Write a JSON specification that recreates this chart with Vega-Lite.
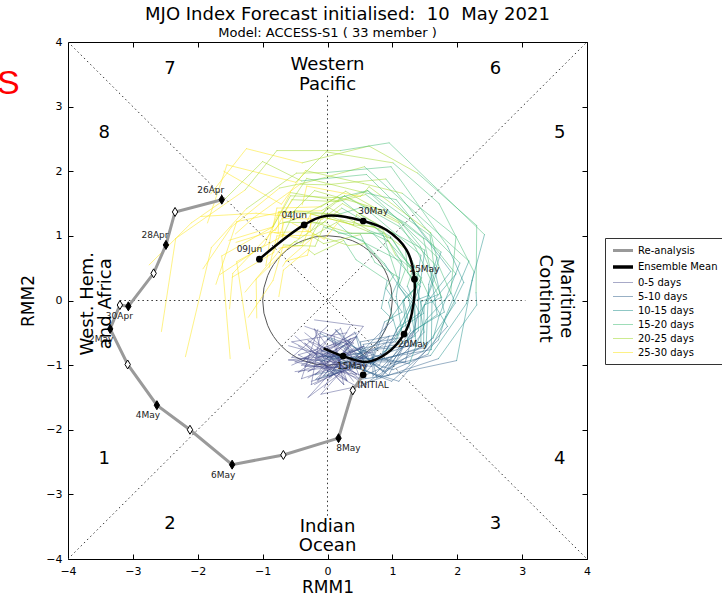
{
  "$schema": "https://vega.github.io/schema/vega-lite/v6.json",
  "autosize": {"type": "none"},
  "width": 519,
  "height": 517,
  "padding": {"left": 68, "top": 42, "right": 135, "bottom": 41},
  "background": "white",
  "title": {"text": "MJO Index Forecast initialised:\u00a0 10\u00a0 May 2021", "fontSize": 18, "font": "DejaVu Sans", "fontWeight": "normal", "color": "#000", "anchor": "middle", "dx": 20, "offset": -15, "baseline": "bottom"},
  "datasets": {
    "guide": [
      {"x": -4, "y": -4, "x2": 4, "y2": 4},
      {"x": -4, "y": 4, "x2": 4, "y2": -4},
      {"x": -3.2, "y": 0, "x2": 3.05, "y2": 0},
      {"x": 0, "y": -3.33, "x2": 0, "y2": 3.2}
    ],
    "rea": [
      {"date": "2021-04-26", "x": -1.63, "y": 1.56, "lab": "26Apr"},
      {"date": "2021-04-27", "x": -2.35, "y": 1.37, "lab": "-"},
      {"date": "2021-04-28", "x": -2.49, "y": 0.86, "lab": "28Apr"},
      {"date": "2021-04-29", "x": -2.68, "y": 0.42, "lab": "-"},
      {"date": "2021-04-30", "x": -3.07, "y": -0.09, "lab": "30Apr"},
      {"date": "2021-05-01", "x": -3.2, "y": -0.07, "lab": "-"},
      {"date": "2021-05-02", "x": -3.35, "y": -0.44, "lab": "2May"},
      {"date": "2021-05-03", "x": -3.08, "y": -0.99, "lab": "-"},
      {"date": "2021-05-04", "x": -2.63, "y": -1.62, "lab": "4May"},
      {"date": "2021-05-05", "x": -2.12, "y": -2.0, "lab": "-"},
      {"date": "2021-05-06", "x": -1.47, "y": -2.54, "lab": "6May"},
      {"date": "2021-05-07", "x": -0.68, "y": -2.39, "lab": "-"},
      {"date": "2021-05-08", "x": 0.17, "y": -2.13, "lab": "8May"},
      {"date": "2021-05-09", "x": 0.39, "y": -1.39, "lab": "-"},
      {"date": "2021-05-10", "x": 0.55, "y": -1.15, "lab": "INITIAL"}
    ],
    "mean": [
      {"d": 1, "x": -0.06, "y": -0.74, "lab": "-"},
      {"d": 5, "x": 0.24, "y": -0.86, "lab": "15May"},
      {"d": 7, "x": 0.6, "y": -0.95, "lab": "-"},
      {"d": 8.5, "x": 0.91, "y": -0.82, "lab": "-"},
      {"d": 10, "x": 1.18, "y": -0.52, "lab": "20May"},
      {"d": 12.5, "x": 1.3, "y": -0.2, "lab": "-"},
      {"d": 15, "x": 1.34, "y": 0.33, "lab": "25May"},
      {"d": 17, "x": 1.22, "y": 0.78, "lab": "-"},
      {"d": 18.5, "x": 0.91, "y": 1.09, "lab": "-"},
      {"d": 20, "x": 0.55, "y": 1.23, "lab": "30May"},
      {"d": 22, "x": -0.01, "y": 1.31, "lab": "-"},
      {"d": 25, "x": -0.36, "y": 1.17, "lab": "04Jun"},
      {"d": 30, "x": -1.05, "y": 0.64, "lab": "09Jun"}
    ],
    "txt": [
      {"k": "phase", "x": -2.43, "y": 3.58, "t": "7"},
      {"k": "phase", "x": 2.59, "y": 3.58, "t": "6"},
      {"k": "phase", "x": -3.44, "y": 2.59, "t": "8"},
      {"k": "phase", "x": 3.58, "y": 2.59, "t": "5"},
      {"k": "phase", "x": -3.44, "y": -2.45, "t": "1"},
      {"k": "phase", "x": 3.58, "y": -2.45, "t": "4"},
      {"k": "phase", "x": -2.43, "y": -3.46, "t": "2"},
      {"k": "phase", "x": 2.59, "y": -3.46, "t": "3"},
      {"k": "phase", "x": 0, "y": 3.64, "t": "Western"},
      {"k": "phase", "x": 0, "y": 3.34, "t": "Pacific"},
      {"k": "phase", "x": 0, "y": -3.5, "t": "Indian"},
      {"k": "phase", "x": 0, "y": -3.8, "t": "Ocean"},
      {"k": "west", "x": -3.69, "y": -0.05, "t": "West. Hem."},
      {"k": "west", "x": -3.41, "y": -0.05, "t": "and Africa"},
      {"k": "east", "x": 3.67, "y": 0.03, "t": "Maritime"},
      {"k": "east", "x": 3.36, "y": 0.03, "t": "Continent"}
    ],
    "ens": [
      {"m":1,"d":0,"x":0.30,"y":-1.05},{"m":1,"d":2.5,"x":-0.40,"y":-1.00},{"m":1,"d":5,"x":0.34,"y":-0.66},{"m":1,"d":7.5,"x":0.85,"y":-1.10},{"m":1,"d":10,"x":1.28,"y":-0.47},{"m":1,"d":12.5,"x":1.17,"y":0.00},{"m":1,"d":15,"x":1.44,"y":0.28},{"m":1,"d":17.5,"x":1.00,"y":0.95},{"m":1,"d":20,"x":0.65,"y":1.08},{"m":1,"d":22.5,"x":0.00,"y":1.45},{"m":1,"d":25,"x":-0.26,"y":1.07},{"m":1,"d":27.5,"x":-0.87,"y":1.05},{"m":1,"d":30,"x":-0.95,"y":0.54},
      {"m":2,"d":0,"x":-0.35,"y":-0.50},{"m":2,"d":2.5,"x":0.45,"y":-1.14},{"m":2,"d":5,"x":-0.04,"y":-0.85},{"m":2,"d":7.5,"x":1.01,"y":-0.94},{"m":2,"d":10,"x":1.32,"y":-0.47},{"m":2,"d":12.5,"x":1.80,"y":-0.18},{"m":2,"d":15,"x":1.64,"y":0.53},{"m":2,"d":17.5,"x":1.58,"y":1.01},{"m":2,"d":20,"x":0.62,"y":1.70},{"m":2,"d":22.5,"x":0.17,"y":1.54},{"m":2,"d":25,"x":-0.57,"y":1.67},{"m":2,"d":27.5,"x":-0.84,"y":1.14},{"m":2,"d":30,"x":-1.52,"y":0.93},
      {"m":3,"d":0,"x":0.15,"y":-0.45},{"m":3,"d":2.5,"x":-0.35,"y":-1.02},{"m":3,"d":5,"x":0.52,"y":-1.04},{"m":3,"d":7.5,"x":0.51,"y":-0.64},{"m":3,"d":10,"x":1.08,"y":-0.53},{"m":3,"d":12.5,"x":0.94,"y":-0.03},{"m":3,"d":15,"x":1.11,"y":0.35},{"m":3,"d":17.5,"x":0.73,"y":0.59},{"m":3,"d":20,"x":0.51,"y":1.02},{"m":3,"d":22.5,"x":-0.06,"y":0.88},{"m":3,"d":25,"x":-0.22,"y":0.98},{"m":3,"d":27.5,"x":-0.64,"y":0.61},{"m":3,"d":30,"x":-0.69,"y":0.53},
      {"m":4,"d":0,"x":0.35,"y":-0.90},{"m":4,"d":2.5,"x":-0.30,"y":-0.62},{"m":4,"d":5,"x":0.48,"y":-1.20},{"m":4,"d":7.5,"x":0.98,"y":-0.98},{"m":4,"d":10,"x":1.47,"y":-0.79},{"m":4,"d":12.5,"x":1.97,"y":-0.04},{"m":4,"d":15,"x":1.90,"y":0.13},{"m":4,"d":17.5,"x":1.98,"y":0.99},{"m":4,"d":20,"x":1.15,"y":1.66},{"m":4,"d":22.5,"x":0.55,"y":1.81},{"m":4,"d":25,"x":-0.34,"y":2.01},{"m":4,"d":27.5,"x":-0.71,"y":1.49},{"m":4,"d":30,"x":-1.60,"y":2.00},
      {"m":5,"d":0,"x":-0.50,"y":-1.10},{"m":5,"d":2.5,"x":0.50,"y":-0.98},{"m":5,"d":5,"x":-0.09,"y":-0.77},{"m":5,"d":7.5,"x":0.82,"y":-1.19},{"m":5,"d":10,"x":1.49,"y":-0.49},{"m":5,"d":12.5,"x":1.44,"y":-0.22},{"m":5,"d":15,"x":1.71,"y":0.50},{"m":5,"d":17.5,"x":1.10,"y":1.15},{"m":5,"d":20,"x":0.26,"y":1.62},{"m":5,"d":22.5,"x":-0.09,"y":1.34},{"m":5,"d":25,"x":-0.75,"y":1.37},{"m":5,"d":27.5,"x":-0.97,"y":0.86},{"m":5,"d":30,"x":-1.66,"y":0.40},
      {"m":6,"d":0,"x":0.05,"y":-1.20},{"m":6,"d":2.5,"x":0.35,"y":-0.64},{"m":6,"d":5,"x":-0.17,"y":-0.93},{"m":6,"d":7.5,"x":0.87,"y":-0.66},{"m":6,"d":10,"x":1.05,"y":-0.64},{"m":6,"d":12.5,"x":1.31,"y":-0.04},{"m":6,"d":15,"x":1.10,"y":0.21},{"m":6,"d":17.5,"x":1.20,"y":0.48},{"m":6,"d":20,"x":0.70,"y":1.04},{"m":6,"d":22.5,"x":0.37,"y":1.04},{"m":6,"d":25,"x":-0.24,"y":1.22},{"m":6,"d":27.5,"x":-0.39,"y":0.85},{"m":6,"d":30,"x":-0.75,"y":0.81},
      {"m":7,"d":0,"x":0.20,"y":-0.65},{"m":7,"d":2.5,"x":-0.45,"y":-0.84},{"m":7,"d":5,"x":0.49,"y":-1.35},{"m":7,"d":7.5,"x":1.03,"y":-0.99},{"m":7,"d":10,"x":1.59,"y":-0.85},{"m":7,"d":12.5,"x":2.14,"y":-0.05},{"m":7,"d":15,"x":2.26,"y":0.44},{"m":7,"d":17.5,"x":1.72,"y":1.50},{"m":7,"d":20,"x":1.01,"y":2.13},{"m":7,"d":22.5,"x":-0.02,"y":2.30},{"m":7,"d":25,"x":-0.49,"y":1.83},{"m":7,"d":27.5,"x":-1.55,"y":2.10},{"m":7,"d":30,"x":-1.85,"y":1.20},
      {"m":8,"d":0,"x":-0.25,"y":-1.25},{"m":8,"d":2.5,"x":0.55,"y":-1.01},{"m":8,"d":5,"x":0.00,"y":-0.59},{"m":8,"d":7.5,"x":0.89,"y":-1.10},{"m":8,"d":10,"x":1.36,"y":-0.45},{"m":8,"d":12.5,"x":1.34,"y":0.03},{"m":8,"d":15,"x":1.44,"y":0.70},{"m":8,"d":17.5,"x":0.56,"y":1.45},{"m":8,"d":20,"x":0.16,"y":1.33},{"m":8,"d":22.5,"x":-0.50,"y":1.39},{"m":8,"d":25,"x":-0.69,"y":1.00},{"m":8,"d":27.5,"x":-1.40,"y":0.60},{"m":8,"d":30,"x":-1.20,"y":-0.75},
      {"m":9,"d":0,"x":0.40,"y":-0.60},{"m":9,"d":2.5,"x":-0.30,"y":-1.10},{"m":9,"d":5,"x":0.56,"y":-0.71},{"m":9,"d":7.5,"x":0.43,"y":-0.89},{"m":9,"d":10,"x":1.01,"y":-0.30},{"m":9,"d":12.5,"x":0.83,"y":-0.12},{"m":9,"d":15,"x":0.92,"y":0.31},{"m":9,"d":17.5,"x":0.44,"y":0.63},{"m":9,"d":20,"x":0.25,"y":0.93},{"m":9,"d":22.5,"x":-0.20,"y":0.71},{"m":9,"d":25,"x":-0.30,"y":0.79},{"m":9,"d":27.5,"x":-0.68,"y":0.47},{"m":9,"d":30,"x":-0.75,"y":0.06},
      {"m":10,"d":0,"x":-0.35,"y":-0.40},{"m":10,"d":2.5,"x":0.40,"y":-0.66},{"m":10,"d":5,"x":-0.18,"y":-1.22},{"m":10,"d":7.5,"x":0.94,"y":-0.88},{"m":10,"d":10,"x":1.60,"y":-0.76},{"m":10,"d":12.5,"x":1.61,"y":-0.03},{"m":10,"d":15,"x":1.98,"y":0.41},{"m":10,"d":17.5,"x":1.06,"y":1.56},{"m":10,"d":20,"x":0.52,"y":1.68},{"m":10,"d":22.5,"x":-0.32,"y":1.89},{"m":10,"d":25,"x":-0.66,"y":1.38},{"m":10,"d":27.5,"x":-1.40,"y":1.22},{"m":10,"d":30,"x":-1.72,"y":0.25},
      {"m":11,"d":0,"x":0.45,"y":-1.15},{"m":11,"d":2.5,"x":-0.50,"y":-0.95},{"m":11,"d":5,"x":0.44,"y":-0.56},{"m":11,"d":7.5,"x":0.60,"y":-1.10},{"m":11,"d":10,"x":1.04,"y":-0.61},{"m":11,"d":12.5,"x":1.15,"y":-0.41},{"m":11,"d":15,"x":1.43,"y":0.22},{"m":11,"d":17.5,"x":1.24,"y":0.43},{"m":11,"d":20,"x":1.20,"y":0.80},{"m":11,"d":22.5,"x":0.45,"y":1.33},{"m":11,"d":25,"x":0.40,"y":1.17},{"m":11,"d":27.5,"x":-0.26,"y":1.34},{"m":11,"d":30,"x":-0.26,"y":1.07},
      {"m":12,"d":0,"x":-0.45,"y":-0.70},{"m":12,"d":2.5,"x":0.30,"y":-1.24},{"m":12,"d":5,"x":0.06,"y":-0.58},{"m":12,"d":7.5,"x":0.89,"y":-0.91},{"m":12,"d":10,"x":1.48,"y":-0.71},{"m":12,"d":12.5,"x":1.49,"y":-0.07},{"m":12,"d":15,"x":1.76,"y":0.05},{"m":12,"d":17.5,"x":1.43,"y":0.84},{"m":12,"d":20,"x":1.14,"y":1.20},{"m":12,"d":22.5,"x":0.28,"y":1.69},{"m":12,"d":25,"x":-0.10,"y":1.45},{"m":12,"d":27.5,"x":-0.78,"y":1.43},{"m":12,"d":30,"x":-0.85,"y":1.09},
      {"m":13,"d":0,"x":0.00,"y":-0.40},{"m":13,"d":2.5,"x":-0.55,"y":-0.88},{"m":13,"d":5,"x":0.68,"y":-1.02},{"m":13,"d":7.5,"x":0.55,"y":-0.68},{"m":13,"d":10,"x":1.16,"y":-0.57},{"m":13,"d":12.5,"x":1.06,"y":0.06},{"m":13,"d":15,"x":1.14,"y":0.60},{"m":13,"d":17.5,"x":0.37,"y":1.00},{"m":13,"d":20,"x":0.14,"y":1.21},{"m":13,"d":22.5,"x":-0.41,"y":0.89},{"m":13,"d":25,"x":-0.51,"y":0.91},{"m":13,"d":27.5,"x":-1.10,"y":0.33},{"m":13,"d":30,"x":-1.09,"y":-0.27},
      {"m":14,"d":0,"x":0.25,"y":-1.30},{"m":14,"d":2.5,"x":-0.35,"y":-0.66},{"m":14,"d":5,"x":0.55,"y":-1.29},{"m":14,"d":7.5,"x":1.08,"y":-1.11},{"m":14,"d":10,"x":1.71,"y":-0.90},{"m":14,"d":12.5,"x":2.30,"y":-0.07},{"m":14,"d":15,"x":2.29,"y":0.12},{"m":14,"d":17.5,"x":2.30,"y":1.16},{"m":14,"d":20,"x":1.39,"y":1.97},{"m":14,"d":22.5,"x":0.64,"y":2.39},{"m":14,"d":25,"x":-0.39,"y":2.13},{"m":14,"d":27.5,"x":-1.25,"y":2.35},{"m":14,"d":30,"x":-1.80,"y":1.65},
      {"m":15,"d":0,"x":-0.55,"y":-1.00},{"m":15,"d":2.5,"x":0.45,"y":-0.56},{"m":15,"d":5,"x":-0.06,"y":-1.17},{"m":15,"d":7.5,"x":0.87,"y":-0.82},{"m":15,"d":10,"x":1.12,"y":-0.44},{"m":15,"d":12.5,"x":1.48,"y":-0.20},{"m":15,"d":15,"x":1.31,"y":0.45},{"m":15,"d":17.5,"x":0.97,"y":0.99},{"m":15,"d":20,"x":0.22,"y":1.43},{"m":15,"d":22.5,"x":-0.07,"y":1.20},{"m":15,"d":25,"x":-0.67,"y":1.21},{"m":15,"d":27.5,"x":-0.83,"y":0.74},{"m":15,"d":30,"x":-1.47,"y":0.36},
      {"m":16,"d":0,"x":0.10,"y":-0.55},{"m":16,"d":2.5,"x":0.25,"y":-1.30},{"m":16,"d":5,"x":-0.18,"y":-0.86},{"m":16,"d":7.5,"x":0.92,"y":-0.91},{"m":16,"d":10,"x":1.26,"y":-0.98},{"m":16,"d":12.5,"x":1.52,"y":-0.30},{"m":16,"d":15,"x":1.90,"y":0.11},{"m":16,"d":17.5,"x":1.71,"y":0.55},{"m":16,"d":20,"x":1.59,"y":1.05},{"m":16,"d":22.5,"x":0.64,"y":1.76},{"m":16,"d":25,"x":0.51,"y":1.61},{"m":16,"d":27.5,"x":-0.32,"y":1.77},{"m":16,"d":30,"x":-0.39,"y":1.48},
      {"m":17,"d":0,"x":0.50,"y":-0.75},{"m":17,"d":2.5,"x":-0.45,"y":-1.11},{"m":17,"d":5,"x":0.42,"y":-0.49},{"m":17,"d":7.5,"x":0.66,"y":-0.99},{"m":17,"d":10,"x":0.88,"y":-0.33},{"m":17,"d":12.5,"x":1.15,"y":-0.18},{"m":17,"d":15,"x":0.90,"y":0.19},{"m":17,"d":17.5,"x":1.02,"y":0.39},{"m":17,"d":20,"x":0.57,"y":0.88},{"m":17,"d":22.5,"x":0.33,"y":0.85},{"m":17,"d":25,"x":-0.22,"y":1.03},{"m":17,"d":27.5,"x":-0.31,"y":0.70},{"m":17,"d":30,"x":-0.64,"y":0.61},
      {"m":18,"d":0,"x":-0.20,"y":-1.30},{"m":18,"d":2.5,"x":0.60,"y":-0.88},{"m":18,"d":5,"x":-0.12,"y":-0.82},{"m":18,"d":7.5,"x":0.99,"y":-1.25},{"m":18,"d":10,"x":1.71,"y":-0.61},{"m":18,"d":12.5,"x":1.82,"y":-0.25},{"m":18,"d":15,"x":2.18,"y":0.61},{"m":18,"d":17.5,"x":1.19,"y":1.51},{"m":18,"d":20,"x":0.57,"y":2.07},{"m":18,"d":22.5,"x":-0.35,"y":1.82},{"m":18,"d":25,"x":-0.74,"y":1.74},{"m":18,"d":27.5,"x":-1.48,"y":1.14},{"m":18,"d":30,"x":-1.92,"y":0.49},
      {"m":19,"d":0,"x":0.30,"y":-0.50},{"m":19,"d":2.5,"x":-0.55,"y":-0.64},{"m":19,"d":5,"x":0.59,"y":-1.20},{"m":19,"d":7.5,"x":0.53,"y":-0.78},{"m":19,"d":10,"x":1.24,"y":-0.65},{"m":19,"d":12.5,"x":1.16,"y":0.00},{"m":19,"d":15,"x":1.37,"y":0.21},{"m":19,"d":17.5,"x":0.95,"y":0.91},{"m":19,"d":20,"x":0.62,"y":1.07},{"m":19,"d":22.5,"x":-0.05,"y":1.34},{"m":19,"d":25,"x":-0.24,"y":1.01},{"m":19,"d":27.5,"x":-0.78,"y":1.00},{"m":19,"d":30,"x":-0.90,"y":0.51},
      {"m":20,"d":0,"x":-0.40,"y":-0.95},{"m":20,"d":2.5,"x":0.20,"y":-0.43},{"m":20,"d":5,"x":0.51,"y":-1.22},{"m":20,"d":7.5,"x":0.67,"y":-0.89},{"m":20,"d":10,"x":1.44,"y":-0.64},{"m":20,"d":12.5,"x":1.44,"y":-0.02},{"m":20,"d":15,"x":1.70,"y":0.09},{"m":20,"d":17.5,"x":1.36,"y":0.81},{"m":20,"d":20,"x":1.10,"y":1.20},{"m":20,"d":22.5,"x":0.26,"y":1.62},{"m":20,"d":25,"x":-0.09,"y":1.39},{"m":20,"d":27.5,"x":-0.75,"y":1.37},{"m":20,"d":30,"x":-0.76,"y":1.04},
      {"m":21,"d":0,"x":-0.15,"y":-0.45},{"m":21,"d":2.5,"x":-0.40,"y":-1.21},{"m":21,"d":5,"x":0.68,"y":-0.84},{"m":21,"d":7.5,"x":0.76,"y":-1.20},{"m":21,"d":10,"x":1.63,"y":-0.58},{"m":21,"d":12.5,"x":1.72,"y":-0.24},{"m":21,"d":15,"x":2.04,"y":0.58},{"m":21,"d":17.5,"x":1.50,"y":1.13},{"m":21,"d":20,"x":0.90,"y":1.88},{"m":21,"d":22.5,"x":-0.03,"y":1.79},{"m":21,"d":25,"x":-0.42,"y":1.80},{"m":21,"d":27.5,"x":-1.14,"y":1.28},{"m":21,"d":30,"x":-1.42,"y":1.03},
      {"m":22,"d":0,"x":0.40,"y":-1.25},{"m":22,"d":2.5,"x":-0.20,"y":-0.44},{"m":22,"d":5,"x":0.03,"y":-1.18},{"m":22,"d":7.5,"x":0.82,"y":-0.71},{"m":22,"d":10,"x":1.00,"y":-0.59},{"m":22,"d":12.5,"x":1.31,"y":0.01},{"m":22,"d":15,"x":1.11,"y":0.25},{"m":22,"d":17.5,"x":0.85,"y":1.04},{"m":22,"d":20,"x":0.17,"y":1.04},{"m":22,"d":22.5,"x":-0.04,"y":1.22},{"m":22,"d":25,"x":-0.59,"y":0.85},{"m":22,"d":27.5,"x":-0.70,"y":0.82},{"m":22,"d":30,"x":-1.27,"y":0.13},
      {"m":23,"d":0,"x":0.15,"y":-1.00},{"m":23,"d":2.5,"x":-0.60,"y":-0.92},{"m":23,"d":5,"x":0.70,"y":-0.80},{"m":23,"d":7.5,"x":0.70,"y":-1.17},{"m":23,"d":10,"x":1.40,"y":-0.47},{"m":23,"d":12.5,"x":1.40,"y":0.04},{"m":23,"d":15,"x":1.50,"y":0.78},{"m":23,"d":17.5,"x":0.53,"y":1.31},{"m":23,"d":20,"x":0.16,"y":1.60},{"m":23,"d":22.5,"x":-0.51,"y":1.25},{"m":23,"d":25,"x":-0.73,"y":1.19},{"m":23,"d":27.5,"x":-1.46,"y":0.42},{"m":23,"d":30,"x":-1.51,"y":-0.13},
      {"m":24,"d":0,"x":-0.50,"y":-0.55},{"m":24,"d":2.5,"x":0.30,"y":-1.24},{"m":24,"d":5,"x":-0.01,"y":-0.78},{"m":24,"d":7.5,"x":1.01,"y":-1.07},{"m":24,"d":10,"x":1.55,"y":-0.83},{"m":24,"d":12.5,"x":2.10,"y":0.28},{"m":24,"d":15,"x":1.85,"y":0.84},{"m":24,"d":17.5,"x":0.98,"y":2.07},{"m":24,"d":20,"x":-0.02,"y":1.98},{"m":24,"d":22.5,"x":-0.48,"y":1.97},{"m":24,"d":25,"x":-1.25,"y":1.42},{"m":24,"d":27.5,"x":-1.79,"y":0.82},{"m":24,"d":30,"x":-2.19,"y":-0.87},
      {"m":25,"d":0,"x":0.55,"y":-0.95},{"m":25,"d":2.5,"x":-0.25,"y":-1.30},{"m":25,"d":5,"x":-0.11,"y":-0.51},{"m":25,"d":7.5,"x":0.80,"y":-1.00},{"m":25,"d":10,"x":1.08,"y":-0.42},{"m":25,"d":12.5,"x":1.42,"y":-0.20},{"m":25,"d":15,"x":1.23,"y":0.22},{"m":25,"d":17.5,"x":1.32,"y":0.49},{"m":25,"d":20,"x":0.73,"y":1.14},{"m":25,"d":22.5,"x":0.40,"y":1.17},{"m":25,"d":25,"x":-0.26,"y":1.34},{"m":25,"d":27.5,"x":-0.44,"y":0.96},{"m":25,"d":30,"x":-0.82,"y":1.05},
      {"m":26,"d":0,"x":-0.05,"y":-1.35},{"m":26,"d":2.5,"x":0.35,"y":-0.59},{"m":26,"d":5,"x":-0.19,"y":-1.15},{"m":26,"d":7.5,"x":0.91,"y":-0.89},{"m":26,"d":10,"x":1.52,"y":-0.72},{"m":26,"d":12.5,"x":1.56,"y":0.25},{"m":26,"d":15,"x":1.69,"y":0.67},{"m":26,"d":17.5,"x":0.62,"y":1.70},{"m":26,"d":20,"x":0.17,"y":1.59},{"m":26,"d":22.5,"x":-0.57,"y":1.62},{"m":26,"d":25,"x":-0.84,"y":1.14},{"m":26,"d":27.5,"x":-1.63,"y":0.69},{"m":26,"d":30,"x":-1.50,"y":-0.90},
      {"m":27,"d":0,"x":-0.60,"y":-0.70},{"m":27,"d":2.5,"x":0.60,"y":-1.02},{"m":27,"d":5,"x":0.12,"y":-0.45},{"m":27,"d":7.5,"x":0.68,"y":-0.96},{"m":27,"d":10,"x":0.92,"y":-0.35},{"m":27,"d":12.5,"x":1.21,"y":0.05},{"m":27,"d":15,"x":0.88,"y":0.57},{"m":27,"d":17.5,"x":0.54,"y":0.93},{"m":27,"d":20,"x":-0.06,"y":1.14},{"m":27,"d":22.5,"x":-0.19,"y":0.84},{"m":27,"d":25,"x":-0.68,"y":0.86},{"m":27,"d":27.5,"x":-0.84,"y":0.31},{"m":27,"d":30,"x":-1.22,"y":-0.26},
      {"m":28,"d":0,"x":0.35,"y":-0.40},{"m":28,"d":2.5,"x":-0.15,"y":-1.24},{"m":28,"d":5,"x":0.41,"y":-0.73},{"m":28,"d":7.5,"x":0.94,"y":-1.16},{"m":28,"d":10,"x":1.28,"y":-0.51},{"m":28,"d":12.5,"x":1.69,"y":-0.22},{"m":28,"d":15,"x":1.58,"y":0.51},{"m":28,"d":17.5,"x":1.48,"y":0.96},{"m":28,"d":20,"x":0.59,"y":1.64},{"m":28,"d":22.5,"x":0.16,"y":1.53},{"m":28,"d":25,"x":-0.55,"y":1.56},{"m":28,"d":27.5,"x":-0.80,"y":1.09},{"m":28,"d":30,"x":-1.41,"y":0.90},
      {"m":29,"d":0,"x":-0.30,"y":-1.20},{"m":29,"d":2.5,"x":0.55,"y":-0.71},{"m":29,"d":5,"x":-0.10,"y":-0.94},{"m":29,"d":7.5,"x":0.79,"y":-0.75},{"m":29,"d":10,"x":1.36,"y":-0.70},{"m":29,"d":12.5,"x":1.33,"y":-0.01},{"m":29,"d":15,"x":1.56,"y":0.08},{"m":29,"d":17.5,"x":1.24,"y":0.75},{"m":29,"d":20,"x":1.01,"y":1.04},{"m":29,"d":22.5,"x":0.23,"y":1.50},{"m":29,"d":25,"x":-0.08,"y":1.26},{"m":29,"d":27.5,"x":-0.69,"y":1.27},{"m":29,"d":30,"x":-0.69,"y":0.95},
      {"m":30,"d":0,"x":0.45,"y":-0.50},{"m":30,"d":2.5,"x":-0.35,"y":-0.88},{"m":30,"d":5,"x":0.51,"y":-1.22},{"m":30,"d":7.5,"x":0.92,"y":-1.16},{"m":30,"d":10,"x":1.99,"y":-0.93},{"m":30,"d":12.5,"x":2.23,"y":0.31},{"m":30,"d":15,"x":2.42,"y":1.02},{"m":30,"d":17.5,"x":0.95,"y":2.44},{"m":30,"d":20,"x":0.20,"y":2.32},{"m":30,"d":22.5,"x":-0.78,"y":2.32},{"m":30,"d":25,"x":-1.27,"y":1.71},{"m":30,"d":27.5,"x":-2.34,"y":0.96},{"m":30,"d":30,"x":-2.56,"y":-0.48},
      {"m":31,"d":0,"x":0.60,"y":-1.30},{"m":31,"d":2.5,"x":-0.10,"y":-1.45},{"m":31,"d":5,"x":0.30,"y":-1.00},{"m":31,"d":7.5,"x":1.10,"y":-1.25},{"m":31,"d":10,"x":1.85,"y":-0.40},{"m":31,"d":12.5,"x":1.55,"y":0.10},{"m":31,"d":15,"x":1.75,"y":0.75},{"m":31,"d":17.5,"x":1.20,"y":1.20},{"m":31,"d":20,"x":0.85,"y":1.40},{"m":31,"d":22.5,"x":-0.20,"y":1.70},{"m":31,"d":25,"x":-0.60,"y":1.30},{"m":31,"d":27.5,"x":-1.10,"y":1.35},{"m":31,"d":30,"x":-1.95,"y":1.30},
      {"m":32,"d":0,"x":-0.20,"y":-0.30},{"m":32,"d":2.5,"x":0.55,"y":-0.40},{"m":32,"d":5,"x":0.10,"y":-1.05},{"m":32,"d":7.5,"x":0.95,"y":-0.55},{"m":32,"d":10,"x":0.85,"y":-0.80},{"m":32,"d":12.5,"x":1.35,"y":-0.55},{"m":32,"d":15,"x":1.25,"y":0.05},{"m":32,"d":17.5,"x":1.45,"y":0.35},{"m":32,"d":20,"x":1.05,"y":0.70},{"m":32,"d":22.5,"x":0.85,"y":1.10},{"m":32,"d":25,"x":0.20,"y":1.25},{"m":32,"d":27.5,"x":-0.05,"y":0.95},{"m":32,"d":30,"x":-0.55,"y":1.20},
      {"m":33,"d":0,"x":0.70,"y":-0.75},{"m":33,"d":2.5,"x":-0.30,"y":-1.50},{"m":33,"d":5,"x":0.20,"y":-0.95},{"m":33,"d":7.5,"x":1.20,"y":-0.95},{"m":33,"d":10,"x":1.40,"y":-0.20},{"m":33,"d":12.5,"x":1.90,"y":0.45},{"m":33,"d":15,"x":1.30,"y":1.25},{"m":33,"d":17.5,"x":0.60,"y":1.95},{"m":33,"d":20,"x":-0.40,"y":1.85},{"m":33,"d":22.5,"x":-1.00,"y":2.15},{"m":33,"d":25,"x":-1.60,"y":1.55},{"m":33,"d":27.5,"x":-2.10,"y":1.20},{"m":33,"d":30,"x":-2.75,"y":0.55}
    ]
  },
  "layer": [
    {
      "layer": [
        {
          "data": {"name": "guide"},
          "mark": {"type": "rule", "stroke": "#333", "strokeWidth": 1, "strokeDash": [1.5, 3]},
          "encoding": {
            "x": {"field": "x", "type": "quantitative", "scale": {"domain": [-4, 4]}, "title": "RMM1"},
            "y": {"field": "y", "type": "quantitative", "scale": {"domain": [-4, 4]}, "title": "RMM2"},
            "x2": {"field": "x2"},
            "y2": {"field": "y2"}
          }
        },
        {
          "data": {"values": [{"x": 0, "y": 0}]},
          "mark": {"type": "point", "shape": "circle", "size": 16800, "filled": false, "stroke": "#555", "strokeWidth": 1, "opacity": 1},
          "encoding": {
            "x": {"field": "x", "type": "quantitative", "scale": {"domain": [-4, 4]}},
            "y": {"field": "y", "type": "quantitative", "scale": {"domain": [-4, 4]}}
          }
        },
        {
          "data": {"name": "ens"},
          "transform": [
            {"window": [{"op": "lead", "field": "x", "as": "x2"}, {"op": "lead", "field": "y", "as": "y2"}], "groupby": ["m"], "sort": [{"field": "d", "order": "ascending"}]},
            {"filter": "isValid(datum.x2)"},
            {"calculate": "datum.d < 5 ? '0-5 days' : datum.d < 10 ? '5-10 days' : datum.d < 15 ? '10-15 days' : datum.d < 20 ? '15-20 days' : datum.d < 25 ? '20-25 days' : '25-30 days'", "as": "s"}
          ],
          "mark": {"type": "rule", "strokeCap": "round"},
          "encoding": {
            "x": {"field": "x", "type": "quantitative", "scale": {"domain": [-4, 4]}},
            "y": {"field": "y", "type": "quantitative", "scale": {"domain": [-4, 4]}},
            "x2": {"field": "x2"},
            "y2": {"field": "y2"},
            "color": {"field": "s", "type": "nominal", "legend": {"title": null},
              "scale": {"domain": ["Re-analysis", "Ensemble Mean", "0-5 days", "5-10 days", "10-15 days", "15-20 days", "20-25 days", "25-30 days"],
                        "range": ["#999999", "#000000", "#414487", "#33638d", "#21918c", "#3fbc73", "#a5db36", "#fde725"]}},
            "strokeWidth": {"field": "s", "type": "nominal", "legend": {"title": null},
              "scale": {"type": "ordinal", "domain": ["Re-analysis", "Ensemble Mean", "0-5 days", "5-10 days", "10-15 days", "15-20 days", "20-25 days", "25-30 days"],
                        "range": [3, 3.5, 1, 1, 1, 1, 1, 1]}},
            "opacity": {"field": "s", "type": "nominal", "legend": {"title": null},
              "scale": {"type": "ordinal", "domain": ["Re-analysis", "Ensemble Mean", "0-5 days", "5-10 days", "10-15 days", "15-20 days", "20-25 days", "25-30 days"],
                        "range": [1, 1, 0.45, 0.5, 0.5, 0.5, 0.55, 0.55]}}
          }
        },
        {
          "data": {"name": "rea"},
          "mark": {"type": "line", "stroke": "#9a9a9a", "strokeWidth": 3},
          "encoding": {
            "x": {"field": "x", "type": "quantitative", "scale": {"domain": [-4, 4]}},
            "y": {"field": "y", "type": "quantitative", "scale": {"domain": [-4, 4]}},
            "order": {"field": "date", "type": "temporal"}
          }
        },
        {
          "data": {"name": "rea"},
          "transform": [{"filter": {"field": "lab", "equal": "-"}}],
          "mark": {"type": "point", "shape": "M0,-1L0.6,0L0,1L-0.6,0Z", "size": 81, "filled": true, "fill": "white", "stroke": "#000", "strokeWidth": 1, "opacity": 1},
          "encoding": {
            "x": {"field": "x", "type": "quantitative", "scale": {"domain": [-4, 4]}},
            "y": {"field": "y", "type": "quantitative", "scale": {"domain": [-4, 4]}}
          }
        },
        {
          "data": {"name": "rea"},
          "transform": [{"filter": {"field": "lab", "oneOf": ["26Apr", "28Apr", "30Apr", "2May", "4May", "6May", "8May"]}}],
          "mark": {"type": "point", "shape": "M0,-1L0.6,0L0,1L-0.6,0Z", "size": 81, "filled": true, "fill": "#000", "stroke": "#000", "strokeWidth": 1, "opacity": 1},
          "encoding": {
            "x": {"field": "x", "type": "quantitative", "scale": {"domain": [-4, 4]}},
            "y": {"field": "y", "type": "quantitative", "scale": {"domain": [-4, 4]}}
          }
        },
        {
          "data": {"name": "mean"},
          "mark": {"type": "line", "stroke": "#000", "strokeWidth": 2.5, "interpolate": "catmull-rom"},
          "encoding": {
            "x": {"field": "x", "type": "quantitative", "scale": {"domain": [-4, 4]}},
            "y": {"field": "y", "type": "quantitative", "scale": {"domain": [-4, 4]}},
            "order": {"field": "d", "type": "quantitative"}
          }
        },
        {
          "data": {"name": "mean"},
          "transform": [{"filter": {"field": "lab", "oneOf": ["15May", "20May", "25May", "30May", "04Jun", "09Jun"]}}],
          "mark": {"type": "point", "shape": "circle", "size": 45, "filled": true, "fill": "#000", "opacity": 1},
          "encoding": {
            "x": {"field": "x", "type": "quantitative", "scale": {"domain": [-4, 4]}},
            "y": {"field": "y", "type": "quantitative", "scale": {"domain": [-4, 4]}}
          }
        },
        {
          "data": {"name": "rea"},
          "transform": [{"filter": {"field": "lab", "equal": "INITIAL"}}],
          "mark": {"type": "point", "shape": "circle", "size": 45, "filled": true, "fill": "#000", "opacity": 1},
          "encoding": {
            "x": {"field": "x", "type": "quantitative", "scale": {"domain": [-4, 4]}},
            "y": {"field": "y", "type": "quantitative", "scale": {"domain": [-4, 4]}}
          }
        },
        {
          "data": {"name": "rea"},
          "transform": [{"filter": {"field": "lab", "oneOf": ["26Apr", "28Apr"]}}],
          "mark": {"type": "text", "dx": -11, "dy": -10, "fontSize": 9, "color": "#222"},
          "encoding": {
            "x": {"field": "x", "type": "quantitative", "scale": {"domain": [-4, 4]}},
            "y": {"field": "y", "type": "quantitative", "scale": {"domain": [-4, 4]}},
            "text": {"field": "lab"}
          }
        },
        {
          "data": {"name": "rea"},
          "transform": [{"filter": {"field": "lab", "oneOf": ["30Apr", "2May", "4May", "6May"]}}],
          "mark": {"type": "text", "dx": -9, "dy": 10, "fontSize": 9, "color": "#222"},
          "encoding": {
            "x": {"field": "x", "type": "quantitative", "scale": {"domain": [-4, 4]}},
            "y": {"field": "y", "type": "quantitative", "scale": {"domain": [-4, 4]}},
            "text": {"field": "lab"}
          }
        },
        {
          "data": {"name": "rea"},
          "transform": [{"filter": {"field": "lab", "oneOf": ["8May", "INITIAL"]}}],
          "mark": {"type": "text", "dx": 10, "dy": 10, "fontSize": 9, "color": "#222"},
          "encoding": {
            "x": {"field": "x", "type": "quantitative", "scale": {"domain": [-4, 4]}},
            "y": {"field": "y", "type": "quantitative", "scale": {"domain": [-4, 4]}},
            "text": {"field": "lab"}
          }
        },
        {
          "data": {"name": "mean"},
          "transform": [{"filter": {"field": "lab", "oneOf": ["04Jun", "09Jun"]}}],
          "mark": {"type": "text", "dx": -10, "dy": -10, "fontSize": 9, "color": "#222"},
          "encoding": {
            "x": {"field": "x", "type": "quantitative", "scale": {"domain": [-4, 4]}},
            "y": {"field": "y", "type": "quantitative", "scale": {"domain": [-4, 4]}},
            "text": {"field": "lab"}
          }
        },
        {
          "data": {"name": "mean"},
          "transform": [{"filter": {"field": "lab", "oneOf": ["25May", "30May"]}}],
          "mark": {"type": "text", "dx": 10, "dy": -10, "fontSize": 9, "color": "#222"},
          "encoding": {
            "x": {"field": "x", "type": "quantitative", "scale": {"domain": [-4, 4]}},
            "y": {"field": "y", "type": "quantitative", "scale": {"domain": [-4, 4]}},
            "text": {"field": "lab"}
          }
        },
        {
          "data": {"name": "mean"},
          "transform": [{"filter": {"field": "lab", "oneOf": ["15May", "20May"]}}],
          "mark": {"type": "text", "dx": 9, "dy": 10, "fontSize": 9, "color": "#222"},
          "encoding": {
            "x": {"field": "x", "type": "quantitative", "scale": {"domain": [-4, 4]}},
            "y": {"field": "y", "type": "quantitative", "scale": {"domain": [-4, 4]}},
            "text": {"field": "lab"}
          }
        },
        {
          "data": {"name": "txt"},
          "transform": [{"filter": {"field": "k", "equal": "phase"}}],
          "mark": {"type": "text", "fontSize": 18, "color": "#000", "baseline": "middle"},
          "encoding": {
            "x": {"field": "x", "type": "quantitative", "scale": {"domain": [-4, 4]}},
            "y": {"field": "y", "type": "quantitative", "scale": {"domain": [-4, 4]}},
            "text": {"field": "t"}
          }
        },
        {
          "data": {"name": "txt"},
          "transform": [{"filter": {"field": "k", "equal": "west"}}],
          "mark": {"type": "text", "fontSize": 18, "color": "#000", "baseline": "middle", "angle": 270},
          "encoding": {
            "x": {"field": "x", "type": "quantitative", "scale": {"domain": [-4, 4]}},
            "y": {"field": "y", "type": "quantitative", "scale": {"domain": [-4, 4]}},
            "text": {"field": "t"}
          }
        },
        {
          "data": {"name": "txt"},
          "transform": [{"filter": {"field": "k", "equal": "east"}}],
          "mark": {"type": "text", "fontSize": 18, "color": "#000", "baseline": "middle", "angle": 90},
          "encoding": {
            "x": {"field": "x", "type": "quantitative", "scale": {"domain": [-4, 4]}},
            "y": {"field": "y", "type": "quantitative", "scale": {"domain": [-4, 4]}},
            "text": {"field": "t"}
          }
        },
        {
          "data": {"values": [{"x": 0, "y": 4, "t": "Model: ACCESS-S1 ( 33 member )"}]},
          "mark": {"type": "text", "fontSize": 13, "color": "#000", "baseline": "alphabetic", "dy": -5},
          "encoding": {
            "x": {"field": "x", "type": "quantitative", "scale": {"domain": [-4, 4]}},
            "y": {"field": "y", "type": "quantitative", "scale": {"domain": [-4, 4]}},
            "text": {"field": "t"}
          }
        },
        {
          "data": {"values": [{"x": -4.92, "y": 3.35, "t": "S"}]},
          "mark": {"type": "text", "fontSize": 34, "font": "Liberation Sans", "color": "#ff0000", "baseline": "middle"},
          "encoding": {
            "x": {"field": "x", "type": "quantitative", "scale": {"domain": [-4, 4]}},
            "y": {"field": "y", "type": "quantitative", "scale": {"domain": [-4, 4]}},
            "text": {"field": "t"}
          }
        }
      ]
    },
    {
      "data": {"values": [{"x": 0, "y": 0}]},
      "mark": {"type": "point", "opacity": 0},
      "encoding": {
        "x": {"field": "x", "type": "quantitative", "scale": {"domain": [-4, 4]}, "axis": {"orient": "top", "labels": false, "title": null}},
        "y": {"field": "y", "type": "quantitative", "scale": {"domain": [-4, 4]}, "axis": {"orient": "right", "labels": false, "title": null}}
      }
    }
  ],
  "resolve": {"axis": {"x": "independent", "y": "independent"}},
  "config": {
    "font": "DejaVu Sans",
    "view": {"stroke": "#000", "strokeWidth": 1},
    "axis": {"domain": false, "grid": false, "ticks": true, "tickSize": -5, "tickCount": 8, "tickColor": "#000", "tickWidth": 1, "labelColor": "#000", "labelFontSize": 11, "labelPadding": 11, "labelFont": "DejaVu Sans", "titleFont": "DejaVu Sans", "titleFontSize": 17, "titleFontWeight": "normal", "titleColor": "#000", "labelFlush": false, "labelOverlap": false},
    "axisX": {"titlePadding": 3},
    "axisY": {"titlePadding": 8},
    "legend": {"orient": "none", "legendX": 537, "legendY": 196, "symbolType": "M-2,0H2", "symbolSize": 100, "labelFontSize": 10, "labelFont": "DejaVu Sans", "labelColor": "#000", "padding": 6, "strokeColor": "#333", "fillColor": "#fff", "rowPadding": 3, "labelOffset": 8, "symbolOffset": 5, "labelLimit": 200},
    "text": {"font": "DejaVu Sans"}
  }
}
